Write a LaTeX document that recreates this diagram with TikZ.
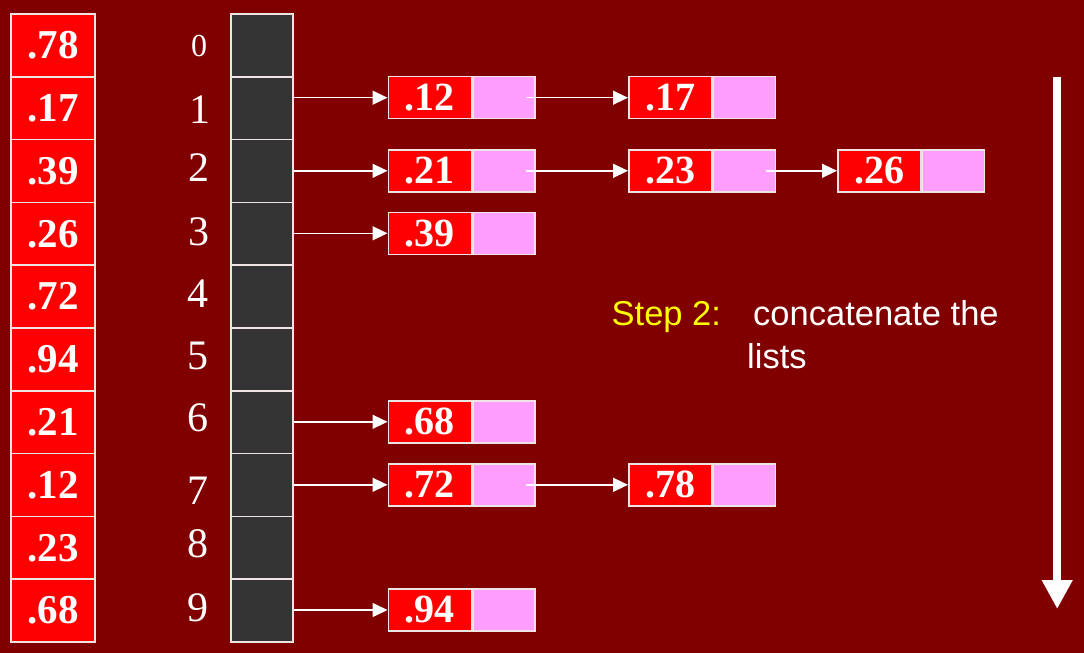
\documentclass[tikz,border=0pt]{standalone}
\usepackage{fontspec}
\setmainfont{Liberation Serif}
\setsansfont{Liberation Sans}
\usetikzlibrary{arrows.meta}
\definecolor{bg}{HTML}{800000}
\definecolor{cellred}{HTML}{FF0000}
\definecolor{cellpink}{HTML}{FF9EFF}
\definecolor{bucketgray}{HTML}{333333}
\definecolor{edge}{HTML}{EEE4E4}
\definecolor{stepyellow}{HTML}{FFFF00}
\tikzset{
  valcell/.style={rectangle, draw=edge, line width=1.5pt, fill=cellred, minimum width=84pt, minimum height=62.8pt, inner sep=0pt, text=white, font=\bfseries\fontsize{41}{41}\selectfont},
  bucketcell/.style={rectangle, draw=edge, line width=1.5pt, fill=bucketgray, minimum width=62pt, minimum height=62.8pt, inner sep=0pt},
  redpart/.style={rectangle, draw=edge, line width=1.5pt, fill=cellred, minimum width=83pt, minimum height=42pt, inner sep=0pt, text=white, anchor=west, font=\bfseries\fontsize{40}{40}\selectfont},
  pinkpart/.style={rectangle, draw=edge, line width=1.5pt, fill=cellpink, minimum width=62pt, minimum height=42pt, inner sep=0pt, anchor=west},
  idx/.style={text=white, inner sep=0pt, font=\fontsize{42}{42}\selectfont},
  arr/.style={draw=white, line width=1.5pt, -{Triangle[length=15pt,width=14pt]}},
  bigarr/.style={draw=white, line width=8pt, -{Triangle[length=29pt,width=29pt]}},
  steptext/.style={inner sep=0pt, anchor=base west, font=\sffamily\fontsize{34.5}{34.5}\selectfont}
}
\newcommand{\lnode}[4]{%
  \node[redpart] (#1) at (#2,#3) {#4};
  \node[pinkpart] (#1p) at (#1.east) {};
}
\begin{document}
\begin{tikzpicture}[x=1pt,y=-1pt]
\fill[bg] (0,0) rectangle (1084,653);
\useasboundingbox (0,0) rectangle (1084,653);

% input array
\foreach \v [count=\i from 0] in {.78,.17,.39,.26,.72,.94,.21,.12,.23,.68}
  \node[valcell] (v\i) at (53,{14+62.8*(\i+0.5)}) {\v};

% buckets
\foreach \i in {0,...,9}
  \node[bucketcell] (b\i) at (262,{14+62.8*(\i+0.5)}) {};

% index labels
\node[idx, font=\fontsize{32}{32}\selectfont] (i0) at (199,46) {0};
\node[idx] (i1) at (200,110) {1};
\node[idx] (i2) at (199,168) {2};
\node[idx] (i3) at (199,232) {3};
\node[idx] (i4) at (198,294) {4};
\node[idx] (i5) at (198,356) {5};
\node[idx] (i6) at (198,418) {6};
\node[idx] (i7) at (198,491) {7};
\node[idx] (i8) at (198,544) {8};
\node[idx] (i9) at (198,608) {9};

% linked lists
\lnode{n12}{387.5}{97.7}{.12}
\lnode{n17}{628}{97.7}{.17}
\lnode{n21}{387.5}{170.8}{.21}
\lnode{n23}{628}{170.8}{.23}
\lnode{n26}{837}{170.8}{.26}
\lnode{n39}{387.5}{233.3}{.39}
\lnode{n68}{387.5}{421.8}{.68}
\lnode{n72}{387.5}{484.8}{.72}
\lnode{n78}{628}{484.8}{.78}
\lnode{n94}{387.5}{610}{.94}

% bucket pointers
\draw[arr] (b1.east |- n12.west) -- (n12.west);
\draw[arr] (b2.east |- n21.west) -- (n21.west);
\draw[arr] (b3.east |- n39.west) -- (n39.west);
\draw[arr] (b6.east |- n68.west) -- (n68.west);
\draw[arr] (b7.east |- n72.west) -- (n72.west);
\draw[arr] (b9.east |- n94.west) -- (n94.west);

% next pointers
\draw[arr] ([xshift=-10pt]n12p.east) -- (n17.west);
\draw[arr] ([xshift=-10pt]n21p.east) -- (n23.west);
\draw[arr] ([xshift=-10pt]n23p.east) -- (n26.west);
\draw[arr] ([xshift=-10pt]n72p.east) -- (n78.west);

% step text
\node[steptext, text=stepyellow] (s1) at (611.5,325) {Step 2:};
\node[steptext, text=white] (s2) at (753,325) {concatenate the};
\node[steptext, text=white] (s3) at (747,368) {lists};

% big arrow
\coordinate (bigtop) at (1057.2,77);
\coordinate (bigbot) at (1057.2,609);
\draw[bigarr] (bigtop) -- (bigbot);
\end{tikzpicture}
\end{document}
